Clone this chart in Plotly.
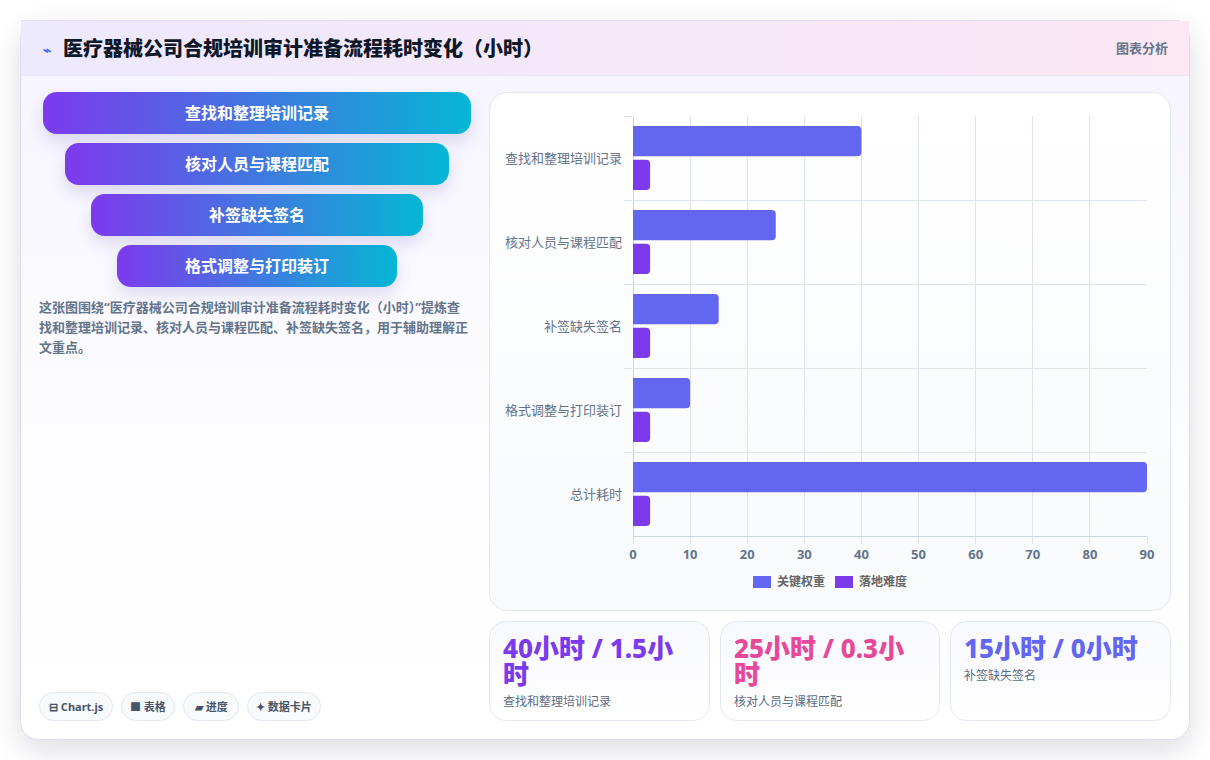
import base64
import plotly.graph_objects as go

# Chart data
categories = ["查找和整理培训记录", "核对人员与课程匹配", "补签缺失签名", "格式调整与打印装订", "总计耗时"]
key_weight = [40, 25, 15, 10, 90]
difficulty = [3, 3, 3, 3, 3]
series_names = ["关键权重", "落地难度"]
series_colors = ["#6366f1", "#7c3aed"]
x_ticks = [0, 10, 20, 30, 40, 50, 60, 70, 80, 90]

# Page text
title = "医疗器械公司合规培训审计准备流程耗时变化（小时）"
title_icon = "⌁"
header_tag = "图表分析"
funnel_steps = categories[:4]
description = [
    "这张图围绕“医疗器械公司合规培训审计准备流程耗时变化（小时）”提炼查",
    "找和整理培训记录、核对人员与课程匹配、补签缺失签名，用于辅助理解正",
    "文重点。",
]
chips = ["⊟ Chart.js", "■ 表格", "▰ 进度", "✦ 数据卡片"]
stat_lines = [["40小时 / 1.5小", "时"], ["25小时 / 0.3小", "时"], ["15小时 / 0小时"]]
stat_labels = ["查找和整理培训记录", "核对人员与课程匹配", "补签缺失签名"]
stat_colors = ["#7c3aed", "#e6489a", "#6366f1"]

W, H = 1210, 760
PL, PR, PT, PB = 633, 1147, 116, 536  # plot rectangle in page pixels
FONT = "'Noto Sans', 'Noto Sans CJK SC', sans-serif"


def px(x):
    return (x - PL) / (PR - PL)


def py(y):
    return (PB - y) / (PB - PT)


# Card surfaces, gradients and soft shadows sit in one backdrop layer
funnel_rects = [(43, 92, 428, 42), (65, 143, 384, 42), (91, 194, 332, 42), (117, 245, 280, 42)]
chip_rects = [(39, 692, 74, 29), (121, 692, 54, 29), (183, 692, 56, 29), (247, 692, 74, 29)]
stat_rects = [(489.5, 621.5, 220, 99), (720.5, 621.5, 219, 99), (950.5, 621.5, 220, 99)]

pills = "".join(
    f'<rect x="{x}" y="{y + 8}" width="{w}" height="{h}" rx="14" fill="#4c3a9a" opacity=".16" filter="url(#s2)"/>'
    f'<rect x="{x}" y="{y}" width="{w}" height="{h}" rx="14" fill="url(#pill)"/>'
    for x, y, w, h in funnel_rects
)
chip_svg = "".join(
    f'<rect x="{x + .5}" y="{y + .5}" width="{w - 1}" height="{h - 1}" rx="14" fill="#f8fafc" stroke="#e2e8f0"/>'
    for x, y, w, h in chip_rects
)
stat_svg = "".join(
    f'<rect x="{x}" y="{y}" width="{w}" height="{h}" rx="16" fill="url(#stat)" stroke="#e2e8f0"/>'
    for x, y, w, h in stat_rects
)
backdrop = f'''<svg xmlns="http://www.w3.org/2000/svg" width="{W}" height="{H}" viewBox="0 0 {W} {H}">
<defs>
<linearGradient id="pill"><stop offset="0" stop-color="#7c3aed"/><stop offset="1" stop-color="#06b6d4"/></linearGradient>
<linearGradient id="head"><stop offset="0" stop-color="#ede9fe"/><stop offset="1" stop-color="#fce7f3"/></linearGradient>
<linearGradient id="body" x2="0" y2="1"><stop offset="0" stop-color="#f5f3ff"/><stop offset=".6" stop-color="#fdfdff"/><stop offset="1" stop-color="#ffffff"/></linearGradient>
<linearGradient id="panel" x2="0" y2="1"><stop offset="0" stop-color="#ffffff"/><stop offset="1" stop-color="#f8fafc"/></linearGradient>
<linearGradient id="stat" x2="0" y2="1"><stop offset="0" stop-color="#f8f9ff"/><stop offset="1" stop-color="#ffffff"/></linearGradient>
<filter id="s1" x="-10%" y="-10%" width="120%" height="125%"><feGaussianBlur stdDeviation="15"/></filter>
<filter id="s2" x="-10%" y="-50%" width="120%" height="200%"><feGaussianBlur stdDeviation="8"/></filter>
</defs>
<rect width="{W}" height="{H}" fill="#ffffff"/>
<rect x="20" y="30" width="1170" height="720" rx="18" fill="#1e1b4b" opacity=".15" filter="url(#s1)"/>
<rect x="20.5" y="20.5" width="1169" height="719" rx="18" fill="url(#body)" stroke="#e0dcf5"/>
<rect x="21" y="21" width="1168" height="54" fill="url(#head)"/>
<line x1="21" y1="75.5" x2="1189" y2="75.5" stroke="#e9e6f8"/>
<line x1="21" y1="20.5" x2="1180" y2="20.5" stroke="#e6dcfa"/>
{pills}{chip_svg}
<rect x="489.5" y="92.5" width="681" height="518" rx="18" fill="url(#panel)" stroke="#e2e8f0"/>
{stat_svg}
</svg>'''
backdrop_uri = "data:image/svg+xml;base64," + base64.b64encode(backdrop.encode("utf-8")).decode()

fig = go.Figure()
fig.add_bar(
    y=categories, x=key_weight, name=series_names[0], orientation="h",
    marker=dict(color=series_colors[0], line=dict(width=0)),
)
fig.add_bar(
    y=categories, x=difficulty, name=series_names[1], orientation="h",
    marker=dict(color=series_colors[1], line=dict(width=0)),
)

annotations = []


def text(x, y, s, size, color, weight=400, anchor="left"):
    annotations.append(dict(
        x=px(x), y=py(y), xref="paper", yref="paper", text=s, showarrow=False,
        xanchor=anchor, yanchor="middle", borderpad=0,
        font=dict(family=FONT, size=size, color=color, weight=weight),
    ))


text(47, 50, title_icon, 14, "#4f6fe0", 700, "center")
text(62, 49, title, 20, "#0f172a", 800)
text(1169, 48, header_tag, 13, "#64748b", 700, "right")

for (x, y, w, h), step in zip(funnel_rects, funnel_steps):
    text(x + w / 2, y + h / 2, step, 16, "#ffffff", 700, "center")

for i, line in enumerate(description):
    text(38, 307 + i * 20, line, 13, "#64748b", 700)

for (x, y, w, h), chip in zip(chip_rects, chips):
    text(x + w / 2, y + h / 2, chip, 11, "#475569", 700, "center")

for (x, y, w, h), lines, label, color in zip(stat_rects, stat_lines, stat_labels, stat_colors):
    for i, line in enumerate(lines):
        text(x + 12.5, 648 + i * 26, line, 26, color, 800)
    text(x + 12.5, 649 + len(lines) * 26, label, 12, "#5b6b80")

# Legend row below the value axis
shapes = []
for x0, name, color in zip([753, 835], series_names, series_colors):
    shapes.append(dict(type="rect", xref="paper", yref="paper", x0=px(x0), x1=px(x0 + 18),
                       y0=py(576), y1=py(588), fillcolor=color, line=dict(width=0)))
    text(x0 + 23, 581, name, 12, "#666666", 700)

fig.update_layout(
    width=W, height=H, autosize=False,
    margin=dict(l=PL, r=W - PR, t=PT, b=H - PB, pad=0),
    paper_bgcolor="#ffffff", plot_bgcolor="rgba(0,0,0,0)",
    barmode="group", bargap=0.2, bargroupgap=0.1, barcornerradius=4,
    showlegend=False, font=dict(family=FONT),
    annotations=annotations, shapes=shapes,
    images=[dict(source=backdrop_uri, xref="paper", yref="paper", x=px(0), y=py(0),
                 sizex=W / (PR - PL), sizey=H / (PB - PT), sizing="stretch",
                 xanchor="left", yanchor="top", layer="below")],
    xaxis=dict(
        range=[0, 90], tickvals=x_ticks, ticks="outside", ticklen=7, tickcolor="#dfe5ec",
        ticklabelstandoff=-1, gridcolor="#dfe5ec", gridwidth=1, showline=True, linecolor="#cbd5e1",
        zeroline=True, zerolinecolor="#cbd5e1", zerolinewidth=1,
        tickfont=dict(family=FONT, size=13, color="#64748b", weight=700),
    ),
    yaxis=dict(
        autorange="reversed", type="category", tickson="boundaries", ticks="outside", ticklen=8,
        ticklabelstandoff=10, tickcolor="#dfe5ec", gridcolor="#dfe5ec", gridwidth=1, showline=False,
        zeroline=False, tickfont=dict(family=FONT, size=13, color="#64748b"),
    ),
)

fig.write_html("out.html", config={"displayModeBar": False})
